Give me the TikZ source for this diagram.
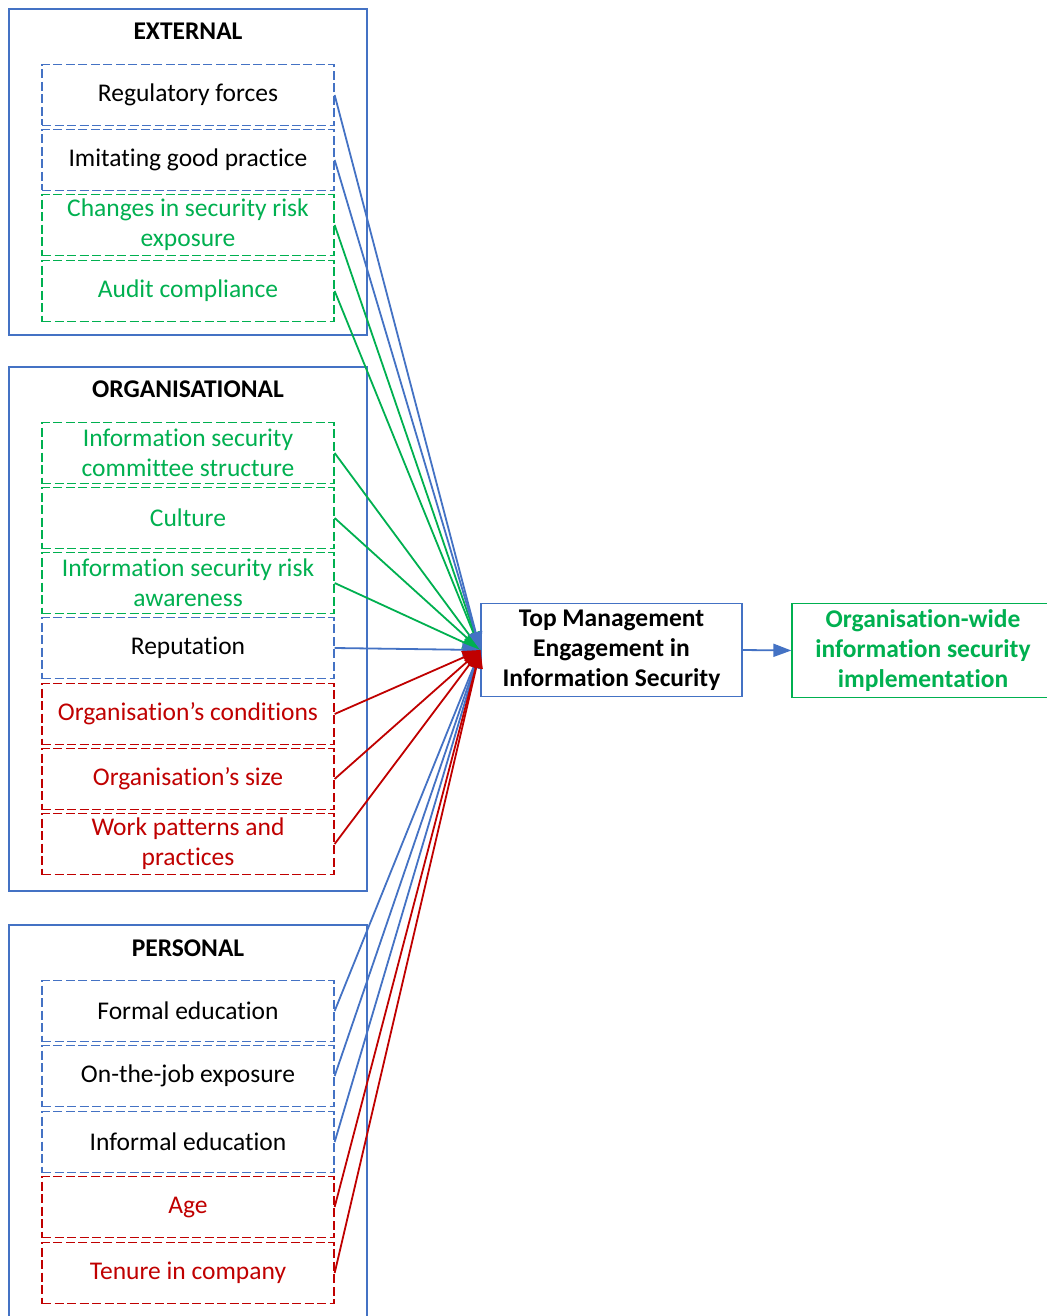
\documentclass[tikz,border=0pt]{standalone}
\usepackage{fontspec}
\setmainfont{Carlito}[Ligatures=NoCommon]
\usetikzlibrary{arrows.meta}
\definecolor{wblue}{HTML}{4472C4}
\definecolor{wgreen}{HTML}{00B050}
\definecolor{wred}{HTML}{C00000}
\newcommand{\labelfont}{\fontsize{25.5}{30}\selectfont}
\tikzset{
  group/.style={draw=wblue, line width=1.2pt},
  heading/.style={font=\labelfont\bfseries, anchor=base, inner sep=0pt},
  factor/.style={draw=#1, dash pattern=on 9pt off 3.5pt, line width=1.3pt,
    minimum width=292pt, minimum height=61pt, inner sep=0pt, align=center,
    font=\labelfont},
  bluefac/.style={factor=wblue, text=black},
  greenfac/.style={factor=wgreen, text=wgreen},
  redfac/.style={factor=wred, text=wred},
  link/.style={line width=1.8pt, -{Triangle[length=18pt,width=13pt]}},
}
\begin{document}
\begin{tikzpicture}[x=1pt,y=-1pt]
\fill[white] (0,0) rectangle (1046,1316);
\useasboundingbox (0,0) rectangle (1046,1316);

% group frames
\draw[group] (9,9) rectangle (367,335);
\draw[group] (9,367) rectangle (367,891);
\draw[group] (9,925) rectangle (367,1340);

\node[heading] (hext) at (188,39.5) {EXTERNAL};
\node[heading] (horg) at (188,397) {ORGANISATIONAL};
\node[heading] (hper) at (188,956) {PERSONAL};

% external factors
\node[bluefac]  (reg)  at (188,95)  {Regulatory forces};
\node[bluefac]  (imi)  at (188,160) {Imitating good practice};
\node[greenfac] (chg)  at (188,225) {Changes in security risk\\exposure};
\node[greenfac] (aud)  at (188,291) {Audit compliance};

% organisational factors
\node[greenfac] (com)  at (188,453) {Information security\\committee structure};
\node[greenfac] (cul)  at (188,518) {Culture};
\node[greenfac] (awa)  at (188,583) {Information security risk\\awareness};
\node[bluefac]  (rep)  at (188,648) {Reputation};
\node[redfac]   (cond) at (188,714) {Organisation’s conditions};
\node[redfac]   (size) at (188,779) {Organisation’s size};
\node[redfac]   (work) at (188,844) {Work patterns and\\practices};

% personal factors
\node[bluefac]  (fed)  at (188,1011) {Formal education};
\node[bluefac]  (ojt)  at (188,1076) {On-the-job exposure};
\node[bluefac]  (ied)  at (188,1142) {Informal education};
\node[redfac]   (age)  at (188,1207) {Age};
\node[redfac]   (ten)  at (188,1273) {Tenure in company};

% central and outcome boxes
\node[draw=wblue, line width=1.3pt, minimum width=261pt, minimum height=93pt,
      inner sep=0pt, align=center, font=\labelfont\bfseries]
      (tm) at (611.5,650) {Top Management\\Engagement in\\Information Security};
\node[draw=wgreen, line width=1.3pt, minimum width=262pt, minimum height=94pt,
      inner sep=0pt, align=center, text=wgreen, font=\labelfont\bfseries]
      (out) at (923,650.5) {Organisation-wide\\information security\\implementation};

% influences
\foreach \s in {chg,aud,com,cul,awa} \draw[link, wgreen] (\s.east) -- (tm.west);
\foreach \s in {reg,imi,rep,fed,ojt,ied} \draw[link, wblue] (\s.east) -- (tm.west);
\foreach \s in {cond,size,work,age,ten} \draw[link, wred] (\s.east) -- (tm.west);

\draw[link, wblue] (tm.east) -- (out.west);
\end{tikzpicture}
\end{document}
